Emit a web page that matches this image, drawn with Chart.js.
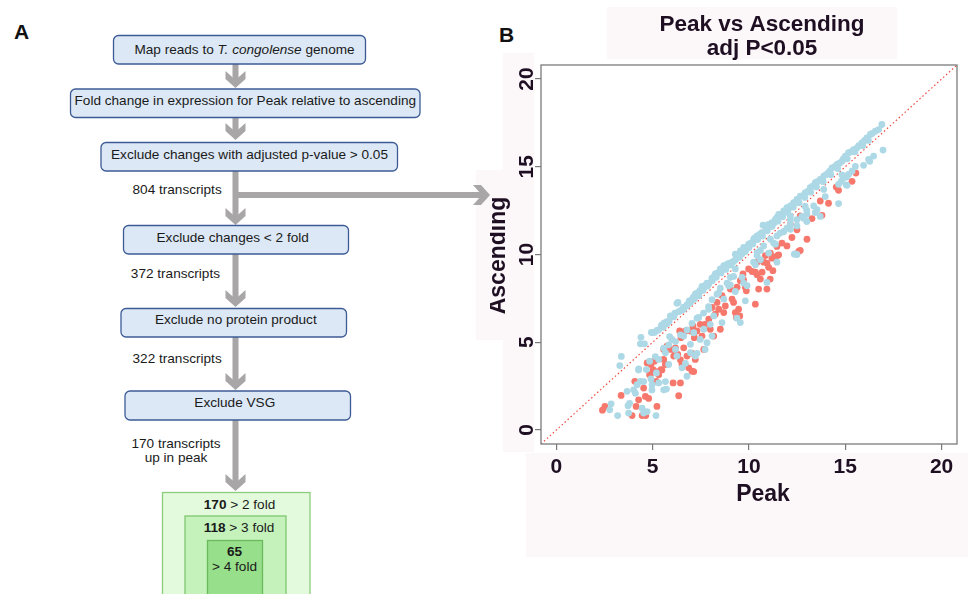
<!DOCTYPE html>
<html>
<head>
<meta charset="utf-8">
<script src="https://cdn.jsdelivr.net/npm/chart.js@4.4.1/dist/chart.umd.min.js"></script>
<script>
// Valores do gráfico (Peak, Ascending)
const tickVals = [0, 5, 10, 15, 20];
const axisMin = -0.8;
const axisMax = 20.8;

// faixa azul acima da diagonal
const bandPts = [
  [3.29,3.67],[3.37,4.19],[4.36,4.91],[4.39,5.28],[4.57,4.91],[4.93,5.56],[5.0,5.55],[5.1,5.56],
  [5.22,5.67],[5.45,5.93],[5.48,5.99],[5.6,6.1],[5.74,6.06],[5.74,6.18],[5.92,6.5],[6.0,6.45],
  [6.14,6.65],[6.17,6.66],[6.26,7.22],[6.31,7.27],[6.44,6.79],[6.52,6.85],[6.61,6.88],[6.78,7.07],
  [6.78,7.13],[6.9,7.35],[6.96,7.27],[7.04,7.42],[7.1,7.55],[7.21,7.74],[7.3,7.8],[7.39,7.65],
  [7.45,7.95],[7.56,8.18],[7.65,8.07],[7.75,8.25],[7.82,8.37],[7.91,8.32],[8.08,8.6],[8.08,8.65],
  [8.2,8.75],[8.25,8.89],[8.34,8.94],[8.45,9.0],[8.51,9.18],[8.6,9.13],[8.69,9.37],[8.75,9.25],
  [8.86,9.41],[8.89,9.46],[9.0,9.5],[9.12,9.56],[9.2,9.6],[9.29,10.02],[9.38,9.85],[9.45,9.95],
  [9.55,10.21],[9.64,10.04],[9.72,10.4],[9.81,10.17],[9.9,10.4],[9.98,10.59],[10.1,10.65],
  [10.24,10.87],[10.3,10.95],[10.42,11.06],[10.55,11.15],[10.67,11.25],[10.73,11.67],[10.85,11.63],
  [10.9,11.4],[11.02,11.72],[11.1,11.6],[11.19,11.82],[11.3,11.8],[11.37,12.0],[11.45,12.1],
  [11.54,12.29],[11.65,12.3],[11.8,12.48],[11.9,12.45],[11.97,12.67],[12.05,12.6],[12.15,12.77],
  [12.25,12.8],[12.32,12.95],[12.4,12.95],[12.49,13.14],[12.55,13.05],[12.66,13.33],[12.8,13.35],
  [12.92,13.52],[13.05,13.6],[13.18,13.81],[13.3,13.9],[13.44,14.09],[13.55,14.15],[13.7,14.28],
  [13.8,14.3],[13.88,14.47],[14.0,14.55],[14.13,14.66],[14.2,14.75],[14.31,14.94],[14.45,15.0],
  [14.57,15.13],[14.7,15.2],[14.83,15.32],[14.9,15.45],[15.0,15.61],[15.17,15.8],[15.3,15.85],
  [15.43,15.98],[15.61,16.08],[15.7,16.2],[15.86,16.36],[16.0,16.5],[16.12,16.65],[16.3,16.84],
  [16.4,16.9],[16.56,17.03],[16.73,17.12],[16.9,17.41],
  [5.3,5.7],[5.55,5.85],[5.85,6.2],[6.1,6.45],[6.35,6.75],[6.6,7.0],[6.85,7.2],[7.15,7.45],
  [7.4,7.75],[7.6,7.95],[7.85,8.2],[8.1,8.5],[8.3,8.7],[8.55,8.95],[8.8,9.15],[9.05,9.4],
  [9.3,9.7],[9.5,9.85],[9.75,10.15],[10.0,10.4],[10.2,10.6],[10.45,10.85],[10.7,11.05],
  [10.95,11.35],[11.2,11.6],[11.5,11.9],[11.75,12.15],[12.0,12.4],[12.3,12.7],[12.6,12.95],
  [12.9,13.25],[13.2,13.55],[13.5,13.85],[13.85,14.15],[14.25,14.55],[14.6,14.9],[15.1,15.45],
  [15.5,15.85],[15.9,16.2],[16.2,16.5]
];

// pontos azuis abaixo da diagonal
const lowPts = [
  [3.18,0.82],[2.77,1.15],[2.84,1.49],[3.67,2.2],[3.72,1.38],[3.75,0.96],[4.01,2.29],[4.19,2.58],
  [4.27,3.48],[4.36,2.77],[4.45,1.24],[4.53,0.96],[4.71,1.05],[4.67,3.44],[4.84,3.92],[4.91,2.91],
  [4.97,2.58],[5.17,0.82],[5.19,3.25],[5.31,4.02],[5.31,2.68],[5.57,2.29],[5.66,4.4],[5.71,2.33],
  [5.83,3.73],[6.0,5.16],[6.18,4.59],[6.26,4.21],[6.52,3.54],[6.61,5.35],[6.78,3.06],[6.96,4.4],
  [6.96,4.88],[7.13,5.54],[7.21,4.21],[7.39,6.41],[7.47,5.16],[7.65,5.74],[7.72,4.59],[7.82,4.97],
  [7.91,6.88],[7.99,6.02],[8.08,5.35],[8.17,6.5],[8.34,7.74],[8.6,6.12],[8.69,7.46],[8.94,8.22],
  [9.03,8.7],[9.29,9.18],[9.55,6.12],[9.64,8.7],[9.81,7.36],[9.9,8.22],[10.24,9.56],[10.42,9.94],
  [10.59,10.23],[10.93,8.41],[11.45,9.56],[12.4,10.04],
  [6.18,5.04],[6.44,5.42],[6.78,5.7],[7.04,6.08],[7.3,6.37],[7.64,6.66],[7.9,7.03],[8.08,7.42],
  [8.42,7.8],[8.51,8.08],[8.86,8.37],[9.29,7.89],[9.37,6.37],[5.88,5.32],[5.57,4.66],[5.83,4.85],
  [10.33,9.41],[10.59,9.7],[11.02,10.08],[11.28,10.65],[11.8,11.32],[12.15,11.7],[12.49,11.98],
  [12.75,12.17],[12.49,10.0],[9.2,8.75],[9.72,8.37],[9.03,8.27],
  [16.96,15.95],[16.47,15.61],[16.21,15.42],[15.95,15.08],[15.17,14.56],[15.35,14.75],[14.9,14.38],
  [14.65,14.0],[15.09,13.94],[14.65,12.9],[13.88,13.71],[13.44,12.39],[13.36,12.77],[13.01,12.29],
  [12.49,11.63],[12.15,11.44],[11.8,11.29],[11.45,11.06],[11.11,10.87],[12.35,10.02],[12.15,12.2],
  [11.37,10.59],[10.76,10.49],[10.42,10.11],
  [14.79,14.17],[15.05,14.41],[13.96,13.3],[13.53,12.55],[13.0,12.51],[12.83,12.07],[13.0,11.88],
  [12.15,11.98],[11.97,11.5],[11.62,11.22],[13.7,12.17],[12.92,12.74],
  [16.27,15.31],[15.52,15.02],[15.08,14.45],[14.82,14.54],[15.05,13.97],
  [4.27,3.42],[4.53,2.76],[4.1,2.09],[4.96,2.28],[3.8,1.52],[5.66,2.76],[5.14,4.18],[6.7,3.8],[7.3,4.37]
];

// pontos vermelhos
const redPts = [
  [2.39,1.13],[2.52,1.34],[3.36,1.97],[3.93,0.82],[4.07,2.77],[4.14,1.34],[4.27,1.72],[4.45,0.82],
  [4.64,0.82],[4.53,2.39],[4.62,1.91],[4.71,3.82],[4.84,3.15],[4.91,3.73],[5.02,3.44],[5.09,3.92],
  [5.19,2.77],[5.22,1.34],[5.31,3.15],[5.43,3.44],[5.57,4.02],[5.66,3.73],[5.57,4.59],[5.74,4.78],
  [5.92,4.59],[6.06,2.68],[6.09,4.21],[6.18,4.68],[6.3,4.3],[6.35,1.95],[6.4,5.64],[6.44,2.68],
  [6.47,5.26],[6.52,3.73],[6.61,4.68],[6.7,5.64],[6.78,4.21],[6.87,3.54],[6.96,5.64],[7.04,3.35],
  [7.09,5.93],[7.16,5.26],[7.21,4.02],[7.3,5.64],[7.47,6.02],[7.56,5.35],[7.65,4.59],[7.72,6.02],
  [7.91,6.31],[7.99,5.74],[8.08,6.98],[8.17,5.35],[8.25,6.6],[8.34,7.27],[8.43,6.88],[8.51,5.74],
  [8.6,7.65],[8.69,6.69],[8.77,7.07],[9.03,8.03],[9.12,7.46],[9.2,7.27],[9.29,6.69],[9.34,6.41],
  [9.46,6.88],[9.52,6.5],[9.55,8.51],[9.69,8.89],[9.81,8.13],[9.86,7.93],[9.98,9.18],[10.33,7.17],
  [10.33,8.99],[10.42,9.56],[10.5,8.03],[10.59,8.6],[10.68,8.99],[10.76,9.56],[10.85,9.94],
  [10.93,8.03],[11.02,9.27],[11.1,8.6],[11.24,9.08],[11.31,9.85],[11.48,9.94],[12.66,10.23],
  [10.67,11.21],[11.71,10.65],[12.49,11.41],[12.23,10.97],[11.45,10.46],[11.54,9.98],[11.97,10.49],
  [12.58,10.18],[11.11,10.08],[11.19,9.79],[10.93,9.51],[10.16,9.03],[9.72,8.56],[9.38,8.14],
  [10.42,8.85],[12.15,11.72],[12.66,12.2],[13.27,12.05],[13.79,12.23],[13.7,13.05],[14.13,12.92],
  [14.53,13.84],[14.65,13.66],[15.35,14.17],[15.55,14.64],[13.01,10.87],
  [5.22,3.33],[5.48,3.42],[4.88,3.14],[4.79,1.8],[6.18,4.37],[6.44,3.99],[7.04,4.37],[7.13,3.33],[5.75,4.75]
];

// linha y = x
const diagPts = [[axisMin, axisMin], [axisMax, axisMax]];

const inkColor = "#1e0f22";
const blueColor = "#add8e6";
const redColor = "#f6786d";
const frameColor = "#7b7b7b";
const boldFont = (px) => `bold ${px}px "Liberation Sans", Arial, sans-serif`;

const toXY = (arr) => arr.map((p) => ({ x: p[0], y: p[1] }));

// caixa, rótulos dos eixos e título
const axisDeco = {
  id: "axisDeco",
  afterDraw(chart) {
    const { ctx, chartArea: a } = chart;
    const xs = chart.scales.x;
    const ys = chart.scales.y;
    const midX = (a.left + a.right) / 2;
    const midY = (a.top + a.bottom) / 2;

    ctx.save();
    ctx.strokeStyle = frameColor;
    ctx.lineWidth = 1.3;
    ctx.strokeRect(a.left, a.top, a.right - a.left, a.bottom - a.top);

    ctx.fillStyle = inkColor;
    ctx.textAlign = "center";
    ctx.textBaseline = "alphabetic";
    ctx.font = boldFont(21);
    tickVals.forEach((v) => {
      ctx.fillText(String(v), xs.getPixelForValue(v), a.bottom + 29);
    });
    tickVals.forEach((v) => {
      ctx.save();
      ctx.translate(a.left - 8, ys.getPixelForValue(v));
      ctx.rotate(-Math.PI / 2);
      ctx.fillText(String(v), 0, 0);
      ctx.restore();
    });

    ctx.font = boldFont(23);
    ctx.fillText("Peak", midX + 14, a.bottom + 57);
    ctx.save();
    ctx.translate(a.left - 36.5, midY + 1);
    ctx.rotate(-Math.PI / 2);
    ctx.fillText("Ascending", 0, 0);
    ctx.restore();

    ctx.font = boldFont(22.5);
    ctx.fillText("Peak vs Ascending", midX + 13, 30.5);
    ctx.fillText("adj P<0.05", midX + 13, 54.5);
    ctx.restore();
  },
};

document.addEventListener("DOMContentLoaded", () => {
  const ctx = document.getElementById("scatter");
  const setTicks = (s) => {
    s.ticks = tickVals.map((v) => ({ value: v }));
  };
  const gridOpts = { drawOnChartArea: false, drawTicks: true, tickLength: 6, color: frameColor, lineWidth: 1.2 };

  new Chart(ctx, {
    type: "scatter",
    data: {
      datasets: [
        { label: "outros", data: toXY(bandPts.concat(lowPts)), backgroundColor: blueColor, borderWidth: 0, pointRadius: 3.4 },
        { label: "up", data: toXY(redPts), backgroundColor: redColor, borderWidth: 0, pointRadius: 3.4 },
        {
          type: "line",
          label: "y=x",
          data: toXY(diagPts),
          borderColor: "#ee4a3e",
          borderWidth: 1.2,
          borderDash: [1.5, 2.5],
          pointRadius: 0,
          fill: false,
        },
      ],
    },
    options: {
      responsive: false,
      animation: false,
      devicePixelRatio: 1,
      layout: { padding: { left: 0, right: 11, top: 65, bottom: 140 } },
      plugins: { legend: { display: false }, tooltip: { enabled: false } },
      scales: {
        x: {
          type: "linear",
          min: axisMin,
          max: axisMax,
          afterBuildTicks: setTicks,
          afterFit: (s) => { s.height = 10; },
          ticks: { display: false },
          grid: gridOpts,
          border: { display: false },
        },
        y: {
          type: "linear",
          min: axisMin,
          max: axisMax,
          afterBuildTicks: setTicks,
          afterFit: (s) => { s.width = 51; },
          ticks: { display: false },
          grid: gridOpts,
          border: { display: false },
        },
      },
    },
    plugins: [axisDeco],
  });
});
</script>
<style>
  html, body { margin: 0; padding: 0; background: #fff; }
  #page { position: relative; width: 968px; height: 594px; overflow: hidden; }
  #flow { position: absolute; left: 0; top: 0; font-family: "Liberation Sans", Arial, sans-serif; }
  #wrap { position: absolute; left: 490px; top: 0; width: 478px; height: 594px; }
</style>
</head>
<body>
<div id="page">
<svg id="flow" width="968" height="594" xmlns="http://www.w3.org/2000/svg">
  <!-- fundos claros do painel B -->
  <g fill="#fcf8fa">
    <rect x="607" y="7" width="290" height="52"/>
    <rect x="503" y="53" width="31" height="399"/>
    <rect x="476" y="170" width="58" height="170"/>
    <rect x="526" y="453" width="442" height="104"/>
  </g>
  <text x="14" y="39" font-size="21" font-weight="bold" fill="#111">A</text>
  <text x="499" y="42" font-size="21" font-weight="bold" fill="#111">B</text>

  <!-- setas -->
  <g fill="#a8a6a7">
    <rect x="232.5" y="64" width="6" height="16"/>
    <polygon points="225.5,71 235.5,80 245.5,71 245.5,79 235.5,88 225.5,79"/>
    <rect x="232.5" y="117" width="6" height="15"/>
    <polygon points="225.5,123 235.5,132 245.5,123 245.5,131 235.5,140 225.5,131"/>
    <rect x="232.5" y="171" width="6" height="47"/>
    <polygon points="225.5,208 235.5,217 245.5,208 245.5,216 235.5,225 225.5,216"/>
    <rect x="235" y="192" width="247" height="6"/>
    <polygon points="473,185 482,195 473,205 481,205 490,195 481,185"/>
    <rect x="232.5" y="254" width="6" height="45"/>
    <polygon points="225.5,290 235.5,299 245.5,290 245.5,298 235.5,307 225.5,298"/>
    <rect x="232.5" y="337" width="6" height="45"/>
    <polygon points="225.5,373 235.5,382 245.5,373 245.5,381 235.5,390 225.5,381"/>
    <rect x="232.5" y="420" width="6" height="63"/>
    <polygon points="225.5,474 235.5,483 245.5,474 245.5,482 235.5,491 225.5,482"/>
  </g>

  <!-- caixas azuis -->
  <g fill="#dce8f5" stroke="#3c5b96" stroke-width="1.3">
    <rect x="113.5" y="35.5" width="252" height="28.5" rx="5"/>
    <rect x="70.5" y="89" width="349.5" height="28.5" rx="5"/>
    <rect x="101" y="142.5" width="296.5" height="28.5" rx="5"/>
    <rect x="123.5" y="225.5" width="225" height="28.5" rx="5"/>
    <rect x="121" y="308.5" width="225.5" height="28.5" rx="5"/>
    <rect x="125" y="391" width="225.5" height="29" rx="5"/>
  </g>
  <g font-size="13.6" fill="#1a1a1a" text-anchor="middle">
    <text x="244.5" y="54">Map reads to <tspan font-style="italic">T. congolense</tspan> genome</text>
    <text x="245.3" y="105.4">Fold change in expression for Peak relative to ascending</text>
    <text x="249.5" y="158.7">Exclude changes with adjusted p-value &gt; 0.05</text>
    <text x="232.7" y="242">Exclude changes &lt; 2 fold</text>
    <text x="235.8" y="324">Exclude no protein product</text>
    <text x="234.8" y="407">Exclude VSG</text>
  </g>

  <!-- contagens -->
  <g font-size="13.6" fill="#1a1a1a">
    <text x="221.7" y="194" text-anchor="end">804 transcripts</text>
    <text x="220" y="277.5" text-anchor="end">372 transcripts</text>
    <text x="221.7" y="363" text-anchor="end">322 transcripts</text>
    <text x="176" y="448" text-anchor="middle">170 transcripts</text>
    <text x="176" y="462" text-anchor="middle">up in peak</text>
  </g>

  <!-- caixas verdes -->
  <rect x="162.5" y="492.5" width="147.5" height="130" fill="#e3fbdc" stroke="#8ccc7c" stroke-width="1.3"/>
  <rect x="185" y="516" width="101" height="110" fill="#c4f2ba" stroke="#80c672" stroke-width="1.3"/>
  <rect x="207.5" y="540.5" width="55" height="90" fill="#97df8b" stroke="#6bbb5d" stroke-width="1.3"/>
  <g font-size="13.6" fill="#1a1a1a" text-anchor="middle">
    <text x="239.5" y="508.7"><tspan font-weight="bold">170</tspan> &gt; 2 fold</text>
    <text x="239" y="532.4"><tspan font-weight="bold">118</tspan> &gt; 3 fold</text>
    <text x="234.5" y="556.4" font-weight="bold">65</text>
    <text x="234.5" y="571.4">&gt; 4 fold</text>
  </g>
</svg>
<div id="wrap"><canvas id="scatter" width="478" height="594"></canvas></div>
</div>
</body>
</html>
